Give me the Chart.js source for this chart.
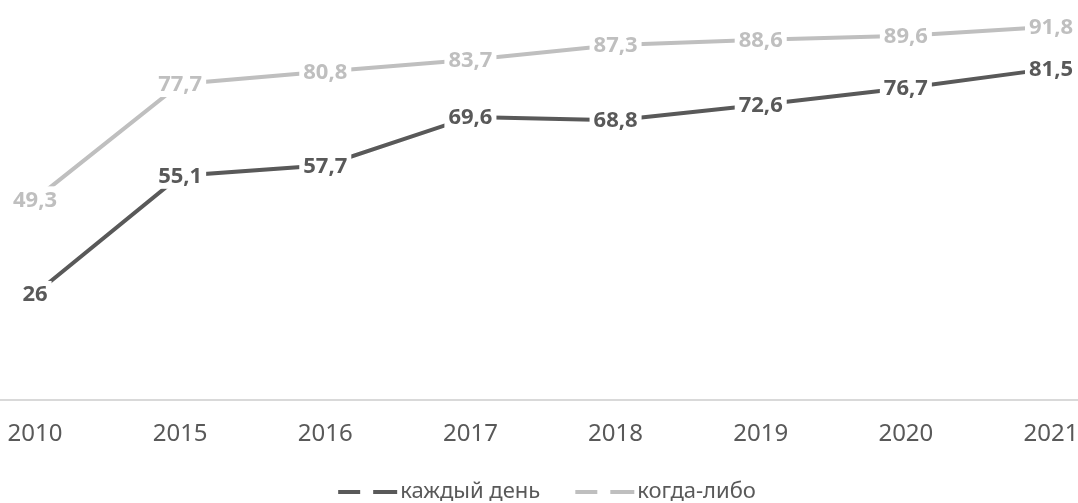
<!DOCTYPE html>
<html>
<head>
<meta charset="utf-8">
<script src="https://cdn.jsdelivr.net/npm/chart.js@4/dist/chart.umd.min.js"></script>
<style>
  html, body { margin: 0; padding: 0; background: #ffffff; }
  #wrap { width: 1078px; height: 503px; }
</style>
</head>
<body>
<div id="wrap"><canvas id="chart" width="1078" height="503"></canvas></div>
<script>
// Years on the horizontal axis
const years = ['2010', '2015', '2016', '2017', '2018', '2019', '2020', '2021'];
// Share, %
const everyDay = [26, 55.1, 57.7, 69.6, 68.8, 72.6, 76.7, 81.5];
const everUsed = [49.3, 77.7, 80.8, 83.7, 87.3, 88.6, 89.6, 91.8];
const seriesNames = ['каждый день', 'когда-либо'];
const seriesColors = ['#595959', '#BFBFBF'];

const FONT = '"Noto Sans", "Open Sans", sans-serif';

function fmt(v) {
  return String(v).replace('.', ',');
}

// Value labels centred on each point, on a white plate that hides the line
const valueLabels = {
  id: 'valueLabels',
  afterDatasetsDraw(chart) {
    const ctx = chart.ctx;
    ctx.save();
    ctx.font = 'bold 22px ' + FONT;
    ctx.textAlign = 'center';
    ctx.textBaseline = 'middle';
    chart.data.datasets.forEach((ds, i) => {
      const meta = chart.getDatasetMeta(i);
      meta.data.forEach((pt, j) => {
        const txt = fmt(ds.data[j]);
        const w = ctx.measureText(txt).width;
        ctx.fillStyle = '#ffffff';
        ctx.fillRect(pt.x - w / 2 - 4, pt.y - 13, w + 8, 26);
        ctx.fillStyle = ds.borderColor;
        ctx.fillText(txt, pt.x, pt.y + 1);
      });
    });
    ctx.restore();
  }
};

// Horizontal axis line across the whole width at value 0
const baseLine = {
  id: 'baseLine',
  beforeDatasetsDraw(chart) {
    const ctx = chart.ctx;
    const y = Math.round(chart.scales.y.getPixelForValue(0));
    ctx.save();
    ctx.strokeStyle = '#D9D9D9';
    ctx.lineWidth = 2;
    ctx.beginPath();
    ctx.moveTo(0, y);
    ctx.lineTo(chart.width, y);
    ctx.stroke();
    ctx.restore();
  }
};

// Legend at the bottom: dashed sample line followed by the series name
const bottomLegend = {
  id: 'bottomLegend',
  afterDraw(chart) {
    const ctx = chart.ctx;
    ctx.save();
    ctx.font = '22px ' + FONT;
    ctx.textBaseline = 'middle';
    const dashA = 22, gap = 13, dashB = 24, textGap = 3, itemGap = 35;
    const symW = dashA + gap + dashB;
    const items = chart.data.datasets.map(ds => ({
      label: ds.label, color: ds.borderColor,
      w: symW + textGap + ctx.measureText(ds.label).width
    }));
    const total = items.reduce((s, it) => s + it.w, 0) + itemGap * (items.length - 1);
    const area = chart.chartArea;
    let x = (area.left + area.right) / 2 - total / 2 + 4;
    const y = 492;
    items.forEach(it => {
      ctx.strokeStyle = it.color;
      ctx.lineWidth = 4;
      ctx.beginPath();
      ctx.moveTo(x, y); ctx.lineTo(x + dashA, y);
      ctx.moveTo(x + dashA + gap, y); ctx.lineTo(x + symW, y);
      ctx.stroke();
      ctx.fillStyle = '#595959';
      ctx.textAlign = 'left';
      ctx.fillText(it.label, x + symW + textGap, y);
      x += it.w + itemGap;
    });
    ctx.restore();
  }
};

new Chart(document.getElementById('chart'), {
  type: 'line',
  data: {
    labels: years,
    datasets: [
      { label: seriesNames[0], data: everyDay, borderColor: seriesColors[0], backgroundColor: seriesColors[0] },
      { label: seriesNames[1], data: everUsed, borderColor: seriesColors[1], backgroundColor: seriesColors[1] }
    ]
  },
  options: {
    responsive: false,
    animation: false,
    devicePixelRatio: 1,
    layout: { padding: { left: 35, right: 27, top: 0, bottom: 40 } },
    elements: {
      line: { borderWidth: 4, tension: 0, borderCapStyle: 'round' },
      point: { radius: 0, hoverRadius: 0 }
    },
    plugins: { legend: { display: false }, tooltip: { enabled: false } },
    scales: {
      x: {
        offset: false,
        grid: { display: false },
        border: { display: false },
        ticks: { color: '#595959', font: { family: FONT, size: 24 }, padding: 12, maxRotation: 0, autoSkip: false },
        afterFit(scale) {
          scale.height = 503 - 399.5 - 40;
          scale.paddingLeft = 0;
          scale.paddingRight = 0;
        }
      },
      y: {
        display: false,
        min: 0,
        max: 98.4
      }
    }
  },
  plugins: [baseLine, valueLabels, bottomLegend]
});
</script>
</body>
</html>
